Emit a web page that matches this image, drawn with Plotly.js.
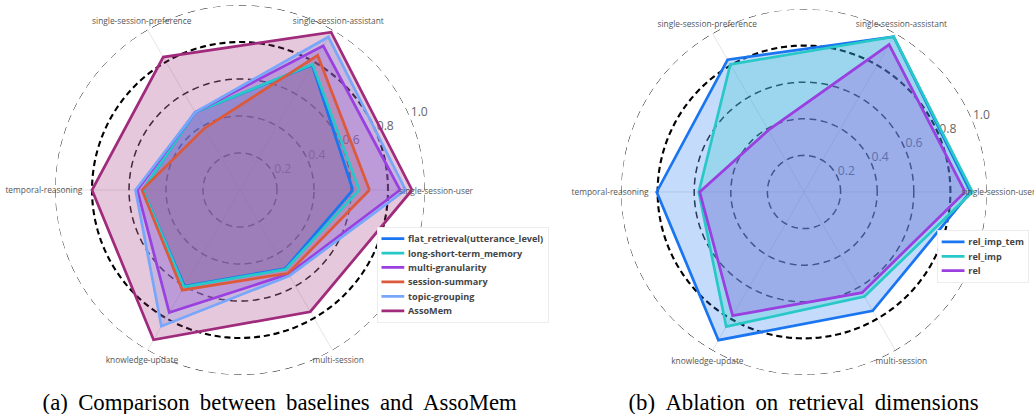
<!DOCTYPE html>
<html><head><meta charset="utf-8">
<script src="https://cdn.plot.ly/plotly-3.0.1.min.js"></script>
<style>
html,body{margin:0;padding:0;background:#fff;overflow:hidden;width:1034px;height:414px;}
#wrap{width:1034px;height:414px;overflow:hidden;position:relative;}
#chart{width:1361px;height:545px;transform:scale(0.76);transform-origin:0 0;position:absolute;left:0;top:0;}
</style></head><body><div id="wrap"><div id="chart"></div></div>
<script>
// ---- data ----
const categories = ['single-session-user','single-session-assistant','single-session-preference','temporal-reasoning','knowledge-update','multi-session'];

// (a) baselines vs AssoMem
const seriesNamesA = ['flat_retrieval(utterance_level)','long-short-term_memory','multi-granularity','session-summary','topic-grouping','AssoMem'];
const flatRetrieval   = [0.61, 0.78, 0.485, 0.525, 0.60, 0.49];
const longShortTerm   = [0.645, 0.785, 0.485, 0.525, 0.605, 0.495];
const multiGranularity= [0.865, 0.90, 0.485, 0.555, 0.765, 0.525];
const sessionSummary  = [0.70, 0.84, 0.385, 0.53, 0.625, 0.52];
const topicGrouping   = [0.895, 0.955, 0.485, 0.565, 0.85, 0.535];
const assoMem         = [0.93, 0.985, 0.83, 0.80, 0.935, 0.76];

// (b) ablation
const seriesNamesB = ['rel_imp_tem','rel_imp','rel'];
const relImpTem = [0.91, 0.98, 0.835, 0.805, 0.935, 0.75];
const relImp    = [0.92, 0.98, 0.805, 0.575, 0.85, 0.66];
const rel       = [0.88, 0.93, 0.39, 0.57, 0.78, 0.635];

const radialTicks = [0.2, 0.4, 0.6, 0.8, 1.0];
const radialTickLabels = ['0.2', '0.4', '0.6', '0.8', '1.0'];
const captions = ['(a) \u2009Comparison \u2009between \u2009baselines \u2009and \u2009AssoMem', '(b) \u2009Ablation \u2009on \u2009retrieval \u2009dimensions'];

// ---- styles ----
const colorsA = ['#1a75f0','#28c8c8','#9a3fe0','#dc5a3c','#78a6fa','#a02a7c'];
const colorsB = ['#1a75f0','#28c8c8','#9a3fe0'];
const W = 1361, H = 545;
const geomA = {cx:315.8, cy:250.0, R:243.4};
const geomB = {cx:1057.9, cy:252.6, R:240.8};
const radialLabelAngle = 22.5;

function hexA(hex, a){
  const n = parseInt(hex.slice(1),16);
  return `rgba(${(n>>16)&255},${(n>>8)&255},${n&255},${a})`;
}
const step = 360/categories.length;
const thetas = categories.map((c,i)=> i*step);
const closeArr = a => a.concat([a[0]]);

function radialLabelTrace(sub){
  return {type:'scatterpolar', subplot:sub, r: radialTicks.map(v=>Math.min(v,0.999)),
    theta: radialTicks.map(()=>radialLabelAngle), mode:'text', text: radialTickLabels,
    textposition:'top right', textfont:{family:'Open Sans', size:16, color:'#666'},
    cliponaxis:false, hoverinfo:'skip', showlegend:false};
}
function ringTraces(sub){
  const th = []; for(let t=0;t<=360;t+=2) th.push(t);
  return radialTicks.map(v=>{
    let color='rgba(0,0,0,0.85)', width=2, dash='9px,6px';
    if (Math.abs(v-0.8)<1e-9){ color='#000'; width=2.8; dash='8px,5px'; }
    if (Math.abs(v-1.0)<1e-9){ color='#000'; width=1.2; dash='10px,7px'; }
    return {type:'scatterpolar', subplot:sub, r: th.map(()=>v), theta: th, mode:'lines',
      line:{color, width, dash}, hoverinfo:'skip', showlegend:false, cliponaxis:false};
  });
}
function fillTrace(sub, vals, color){
  return {type:'scatterpolar', subplot:sub, r: closeArr(vals), theta: closeArr(thetas), mode:'lines',
    fill:'toself', fillcolor: hexA(color,0.26), line:{width:0, color:hexA(color,0)}, hoverinfo:'skip', showlegend:false};
}
function lineTrace(sub, vals, color, name, leg){
  return {type:'scatterpolar', subplot:sub, r: closeArr(vals), theta: closeArr(thetas), mode:'lines',
    name, legend: leg, line:{width:3.6, color}, showlegend:true};
}
function catAnnotations(g){
  return categories.map((c,i)=>{
    const a = thetas[i]*Math.PI/180;
    const x = g.cx + 1.062*g.R*Math.cos(a), y = g.cy - 1.062*g.R*Math.sin(a);
    return {text:c, xref:'paper', yref:'paper', x:x/W, y:1-y/H, xanchor:'center', yanchor:'middle',
      showarrow:false, font:{family:'Open Sans', size:11, color:'#555'}};
  });
}

const dataA = [flatRetrieval, longShortTerm, multiGranularity, sessionSummary, topicGrouping, assoMem];
const dataB = [relImpTem, relImp, rel];

const traces = [];
traces.push(radialLabelTrace('polar'));
traces.push(...ringTraces('polar'));
dataA.forEach((d,i)=> traces.push(fillTrace('polar', d, colorsA[i])));
dataA.forEach((d,i)=> traces.push(lineTrace('polar', d, colorsA[i], seriesNamesA[i], 'legend')));
traces.push(radialLabelTrace('polar2'));
traces.push(...ringTraces('polar2'));
dataB.forEach((d,i)=> traces.push(fillTrace('polar2', d, colorsB[i])));
dataB.forEach((d,i)=> traces.push(lineTrace('polar2', d, colorsB[i], seriesNamesB[i], 'legend2')));

function domainOf(g){
  return {x:[(g.cx-g.R)/W, (g.cx+g.R)/W], y:[1-(g.cy+g.R)/H, 1-(g.cy-g.R)/H]};
}
function polarCfg(g){
  return {
    domain: domainOf(g), bgcolor:'rgba(0,0,0,0)',
    angularaxis:{type:'linear', thetaunit:'degrees', rotation:0, direction:'counterclockwise',
      tickmode:'array', tickvals: thetas, ticktext: categories, showticklabels:false, ticks:'',
      showline:false, showgrid:true, gridcolor:'#dcdcdc', gridwidth:1},
    radialaxis:{range:[0,1], angle:radialLabelAngle, tickmode:'array', tickvals: radialTicks,
      showticklabels:false, showgrid:false, showline:false, ticks:''}
  };
}

const legendBase = {xanchor:'left', yanchor:'top', bgcolor:'#ffffff', bordercolor:'#e6e6e6', borderwidth:1,
  font:{family:'Open Sans', size:12, color:'#444', weight:'bold'}};

const capFont = {family:'Liberation Serif', size:30, color:'#000'};
const layout = {
  width: W, height: H, margin:{l:0,r:0,t:0,b:0}, paper_bgcolor:'#fff', plot_bgcolor:'#fff',
  showlegend:true,
  polar: polarCfg(geomA),
  polar2: polarCfg(geomB),
  legend: Object.assign({x:0.3644, y:0.4524}, legendBase),
  legend2: Object.assign({x:0.906, y:0.4446}, legendBase),
  annotations: [
    {text: captions[0], xref:'paper', yref:'paper', x:0.2702, y:0.027, xanchor:'center', yanchor:'middle', showarrow:false, font:capFont},
    {text: captions[1], xref:'paper', yref:'paper', x:0.7768, y:0.027, xanchor:'center', yanchor:'middle', showarrow:false, font:capFont}
  ].concat(catAnnotations(geomA), catAnnotations(geomB))
};
Plotly.newPlot('chart', traces, layout, {displayModeBar:false, staticPlot:true});
</script></body></html>
